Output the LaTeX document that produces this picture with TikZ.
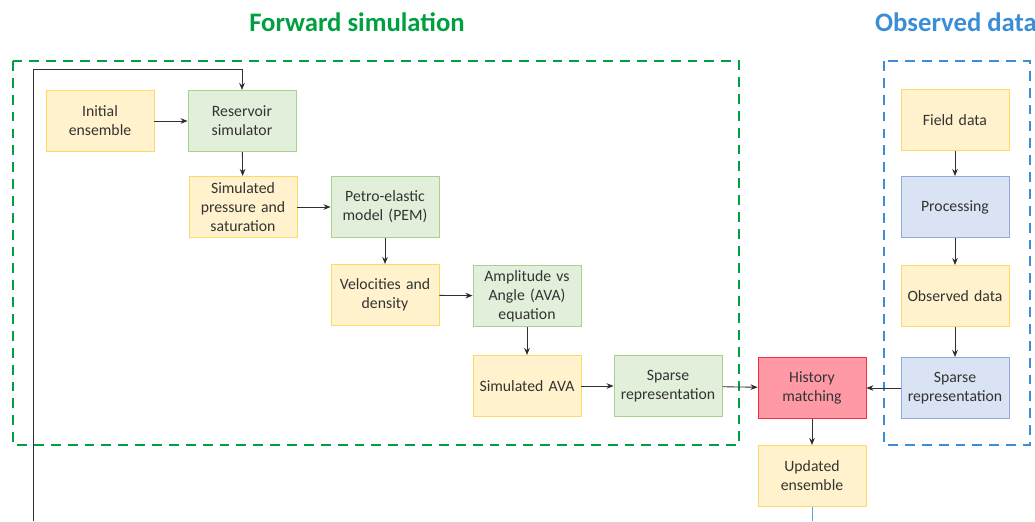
\documentclass[tikz,border=0pt]{standalone}
\usepackage{fontspec}
\setmainfont{Carlito}
\usetikzlibrary{positioning, arrows.meta}

\definecolor{yelfill}{HTML}{FFF2CC}
\definecolor{yeldraw}{HTML}{FFD966}
\definecolor{grnfill}{HTML}{E2EFDA}
\definecolor{grndraw}{HTML}{A9D18E}
\definecolor{blufill}{HTML}{DAE3F3}
\definecolor{bludraw}{HTML}{8FAADC}
\definecolor{redfill}{HTML}{FF99A6}
\definecolor{reddraw}{HTML}{F03040}
\definecolor{fwdgreen}{HTML}{00A040}
\definecolor{obsblue}{HTML}{3A8ED8}
\definecolor{linegray}{HTML}{303030}

\tikzset{
  box/.style={rectangle, draw, line width=0.6pt, minimum width=2.7cm, minimum height=1.53cm,
    align=center, text width=2.4cm, font=\fontsize{11.2}{13.6}\selectfont, text=black!80},
  ybox/.style={box, fill=yelfill, draw=yeldraw},
  gbox/.style={box, fill=grnfill, draw=grndraw},
  bbox/.style={box, fill=blufill, draw=bludraw},
  rbox/.style={box, fill=redfill, draw=reddraw},
  flow/.style={->, >={Stealth[length=5pt, width=4pt]}, draw=linegray, line width=0.6pt},
  frame/.style={dashed, line width=1.6pt, dash pattern=on 7pt off 5pt}
}

\begin{document}
\begin{tikzpicture}[x=0.025cm, y=-0.025cm]
          \useasboundingbox (0, 0) rectangle (1035, 521);
          % titles and frames
          \node (fwdtitle) [text=fwdgreen, font=\fontsize{19}{22}\selectfont\bfseries] at (357, 22) {Forward simulation};
          \node (obstitle) [text=obsblue, font=\fontsize{19}{22}\selectfont\bfseries] at (956, 22) {Observed data};
          \draw [frame, draw=fwdgreen] (13, 61) rectangle (739, 445);
          \draw [frame, draw=obsblue] (884, 61) rectangle (1030, 445);
          % forward simulation
          \node (init) [ybox] at (100, 121) {Initial\\ensemble};
          \node (ressim) [gbox] at (242, 121) {Reservoir\\simulator};
          \node (simps) [ybox] at (243, 207) {Simulated\\pressure and\\saturation};
          \node (pem) [gbox] at (385, 207) {Petro-elastic\\model (PEM)};
          \node (veld) [ybox] at (385, 295) {Velocities and\\density};
          \node (ava) [gbox] at (527, 296) {Amplitude vs\\Angle (AVA)\\equation};
          \node (simava) [ybox] at (527, 386) {Simulated AVA};
          \node (sparsef) [gbox] at (668, 386) {Sparse\\representation};
          % history matching
          \node (hm) [rbox] at (812, 388) {History\\matching};
          \node (upd) [ybox] at (812, 476) {Updated\\ensemble};
          % observed data
          \node (field) [ybox] at (955, 120) {Field data};
          \node (proc) [bbox] at (955, 207) {Processing};
          \node (obs) [ybox] at (955, 296) {Observed data};
          \node (sparseo) [bbox] at (955, 388) {Sparse\\representation};
          \coordinate (loopbot) at (33, 521);
          \coordinate (loopcorner) at (33, 69);
          \coordinate (updbot) at (812, 521);
          % connectors
          \path [flow] (init) edge (ressim);
          \path [flow] (ressim) edge (simps);
          \path [flow] (simps) edge (pem);
          \path [flow] (pem) edge (veld);
          \path [flow] (veld) edge (ava);
          \path [flow] (ava) edge (simava);
          \path [flow] (simava) edge (sparsef);
          \path [flow] (sparsef) edge (hm);
          \path [flow] (sparseo) edge (hm);
          \path [flow] (hm) edge (upd);
          \path [flow] (field) edge (proc);
          \path [flow] (proc) edge (obs);
          \path [flow] (obs) edge (sparseo);
          \draw [flow] (loopbot) -- (loopcorner) -| (ressim.north);
          \draw [draw=obsblue!80, line width=0.6pt] (upd) -- (updbot);
        \end{tikzpicture}
\end{document}
